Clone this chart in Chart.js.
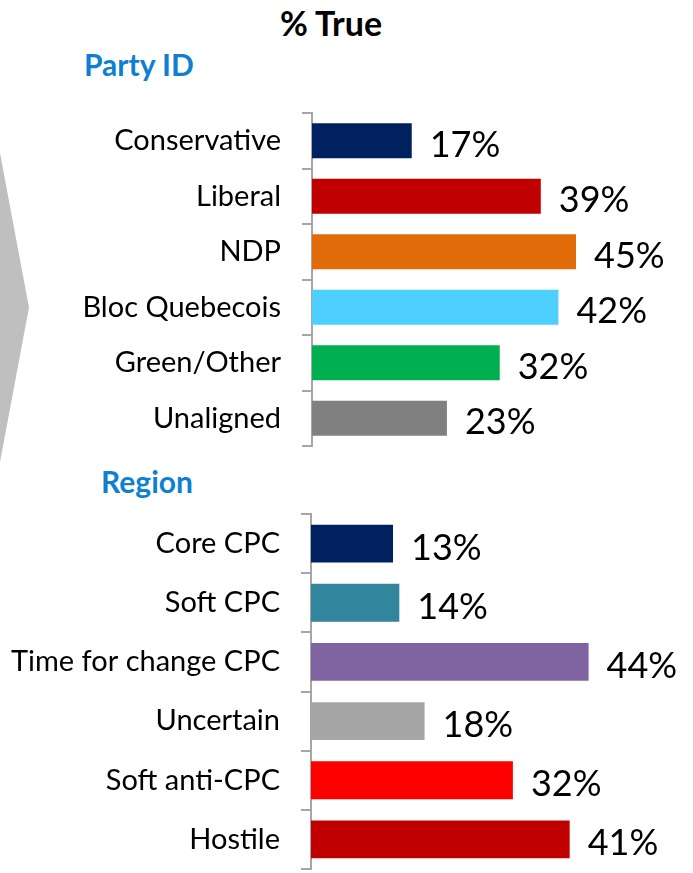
<!DOCTYPE html>
<html>
<head>
<meta charset="utf-8">
<script src="https://cdn.jsdelivr.net/npm/chart.js@4/dist/chart.umd.min.js"></script>
<style>
    body { margin: 0; width: 693px; height: 873px; background: #fff; position: relative; overflow: hidden; font-family: Lato, sans-serif; }
    .title { position: absolute; font-weight: bold; white-space: nowrap; line-height: normal; }
    #main-title { left: 280px; top: 2px; font-size: 34px; color: #000; }
    .section { font-size: 30px; color: #0e7fd3; }
    #party-title { left: 84px; top: 46px; }
    #region-title { left: 101px; top: 463px; }
    #arrow { position: absolute; left: 0; top: 153px; width: 29px; height: 309px; background: #bfbfbf; clip-path: polygon(0 0, 100% 50%, 0 100%); }
    .chart-box { position: absolute; left: 0; width: 693px; }
    #party-box { top: 100px; height: 350px; }
    #region-box { top: 500px; height: 373px; }
</style>
</head>
<body>
<div id="arrow"></div>
<div class="title" id="main-title">% True</div>
<div class="title section" id="party-title">Party ID</div>
<div class="title section" id="region-title">Region</div>
<div class="chart-box" id="party-box"><canvas id="party-chart"></canvas></div>
<div class="chart-box" id="region-box"><canvas id="region-chart"></canvas></div>

<script>
// % True by party ID
const partyLabels = ['Conservative', 'Liberal', 'NDP', 'Bloc Quebecois', 'Green/Other', 'Unaligned'];
const partyValues = [17, 39, 45, 42, 32, 23];
const partyColors = ['#002060', '#c00000', '#e36c0a', '#4dd0ff', '#00b050', '#808080'];

// % True by region segment
const regionLabels = ['Core CPC', 'Soft CPC', 'Time for change CPC', 'Uncertain', 'Soft anti-CPC', 'Hostile'];
const regionValues = [13, 14, 44, 18, 32, 41];
const regionColors = ['#002060', '#31859c', '#8064a2', '#a6a6a6', '#ff0000', '#c00000'];

const AXIS_GRAY = '#a6a6a6';

// draws the "17%" style labels just past the end of each bar
const valueLabels = {
    id: 'valueLabels',
    afterDatasetsDraw(chart) {
        const ctx = chart.ctx;
        const values = chart.data.datasets[0].data;
        ctx.save();
        ctx.font = '36px Lato, sans-serif';
        ctx.fillStyle = '#000';
        ctx.textAlign = 'left';
        ctx.textBaseline = 'alphabetic';
        chart.getDatasetMeta(0).data.forEach((bar, i) => {
            ctx.fillText(values[i] + '%', bar.x + 18, bar.y + 16);
        });
        ctx.restore();
    }
};

function makeChart(canvasId, labels, values, colors, opts) {
    const ctx = document.getElementById(canvasId).getContext('2d');
    return new Chart(ctx, {
        type: 'bar',
        data: {
            labels: labels,
            datasets: [{
                data: values,
                backgroundColor: colors,
                borderWidth: 0,
                barPercentage: opts.barPct,
                categoryPercentage: 1
            }]
        },
        options: {
            indexAxis: 'y',
            responsive: true,
            maintainAspectRatio: false,
            animation: false,
            layout: { padding: opts.padding },
            plugins: {
                legend: { display: false },
                tooltip: { enabled: false }
            },
            scales: {
                x: {
                    display: false,
                    min: 0,
                    max: opts.max
                },
                y: {
                    afterFit(scale) {
                        scale.width = opts.axisX;
                        // labels sit mid-category, no need for the extra label padding
                        scale.paddingTop = 0;
                        scale.paddingBottom = 0;
                    },
                    grid: {
                        offset: true,
                        drawOnChartArea: false,
                        drawTicks: true,
                        tickLength: 10,
                        color: AXIS_GRAY,
                        lineWidth: 2
                    },
                    border: { color: AXIS_GRAY, width: 2 },
                    ticks: {
                        color: '#000',
                        padding: 21,
                        font: { family: 'Lato, sans-serif', size: 29 }
                    }
                }
            }
        },
        plugins: [valueLabels]
    });
}

makeChart('party-chart', partyLabels, partyValues, partyColors, {
    axisX: 312, max: 60, barPct: 0.63,
    padding: { top: 13, bottom: 4, left: 0, right: 29 }
});

makeChart('region-chart', regionLabels, regionValues, regionColors, {
    axisX: 311, max: 55, barPct: 0.64,
    padding: { top: 14, bottom: 4, left: 0, right: 35 }
});
</script>
</body>
</html>
